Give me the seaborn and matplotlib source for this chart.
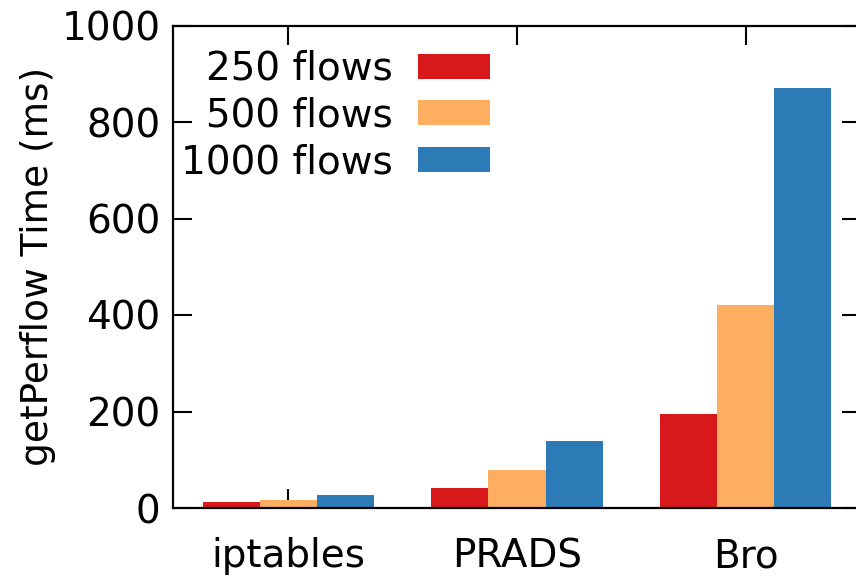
import matplotlib
matplotlib.use("Agg")
import matplotlib.pyplot as plt
import seaborn as sns
import pandas as pd

# getPerflow latency per middlebox for different flow counts
systems = ["iptables", "PRADS", "Bro"]
flow_labels = ["250 flows", "500 flows", "1000 flows"]
time_250 = [12, 42, 195]
time_500 = [17, 79, 420]
time_1000 = [27, 139, 870]
colors = ["#d7191c", "#fdae61", "#2c7bb6"]
y_ticks = [0, 200, 400, 600, 800, 1000]

df = pd.DataFrame({
    "system": systems * 3,
    "flows": [flow_labels[0]] * 3 + [flow_labels[1]] * 3 + [flow_labels[2]] * 3,
    "time": time_250 + time_500 + time_1000,
})

sns.set_theme(style="ticks")
plt.rcParams["font.family"] = ["DejaVu Sans"]
plt.rcParams["text.color"] = "black"

W, H = 856, 576
fig = plt.figure(figsize=(W / 100, H / 100), dpi=100)
ax = fig.add_axes([173 / W, (H - 508) / H, (861 - 173) / W, (508 - 25.5) / H])

sns.barplot(data=df, x="system", y="time", hue="flows", hue_order=flow_labels,
            order=systems, palette=colors, width=0.75, gap=0,
            saturation=1, linewidth=0, ax=ax, zorder=3)

ax.set_ylim(0, 1000)
ax.set_xlim(-0.505, 2.505)
ax.set_yticks(y_ticks)
ax.set_xlabel("")
ax.set_ylabel("getPerflow Time (ms)", fontsize=27, labelpad=4, color="black")

for s in ax.spines.values():
    s.set_visible(True)
    s.set_linewidth(1.6)
    s.set_color("black")
    s.set_zorder(4)

ax.tick_params(axis="both", direction="in", length=13.5, width=1.5,
               colors="black", labelsize=28, top=True, right=True)
ax.tick_params(axis="y", pad=9)
ax.tick_params(axis="x", pad=21)

handles, labels = ax.get_legend_handles_labels()
leg = ax.legend(handles, labels, loc="upper right",
                bbox_to_anchor=(490 / W, (H - 50) / H),
                bbox_transform=fig.transFigure,
                frameon=False, markerfirst=False, fontsize=28,
                handlelength=1.85, handleheight=0.62, handletextpad=0.64,
                labelspacing=0.22, borderpad=0, borderaxespad=0)
for t in leg.get_texts():
    t.set_ha("right")
    t.set_color("black")

fig.savefig("out.png", dpi=100)
